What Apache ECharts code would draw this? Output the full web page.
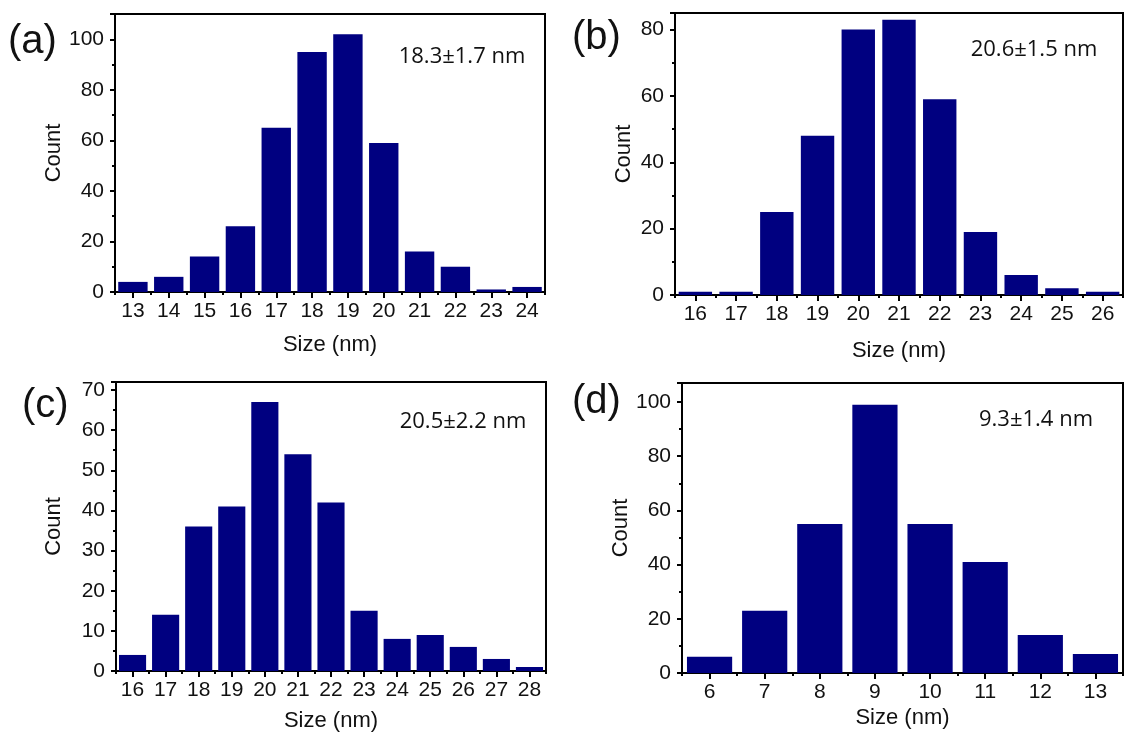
<!DOCTYPE html>
<html>
<head>
<meta charset="utf-8">
<script src="https://cdn.jsdelivr.net/npm/echarts@6/dist/echarts.min.js"></script>
<style>
html,body{margin:0;padding:0;background:#fff;}
#chart{width:1125px;height:734px;}
</style>
</head>
<body>
<div id="chart"></div>
<script>
// ---- data ----
const catsA = ['13','14','15','16','17','18','19','20','21','22','23','24'];
const valsA = [4, 6, 14, 26, 65, 95, 102, 59, 16, 10, 1, 2];
const catsB = ['16','17','18','19','20','21','22','23','24','25','26'];
const valsB = [1, 1, 25, 48, 80, 83, 59, 19, 6, 2, 1];
const catsC = ['16','17','18','19','20','21','22','23','24','25','26','27','28'];
const valsC = [4, 14, 36, 41, 67, 54, 42, 15, 8, 9, 6, 3, 1];
const catsD = ['6','7','8','9','10','11','12','13'];
const valsD = [6, 23, 55, 99, 55, 41, 14, 7];
const panelLabels = ['(a)', '(b)', '(c)', '(d)'];
const sizeNotes = ['18.3\u00b11.7 nm', '20.6\u00b11.5 nm', '20.5\u00b12.2 nm', '9.3\u00b11.4 nm'];
const yTitle = 'Count';
const xTitle = 'Size (nm)';

const panels = [
  {cats: catsA, vals: valsA, ymax: 110, interval: 20, grid: {left: 115, top: 14, width: 430, height: 278}, yGap: 50, xGap: 42},
  {cats: catsB, vals: valsB, ymax: 85, interval: 20, grid: {left: 675, top: 13, width: 448, height: 282}, yGap: 40, xGap: 45},
  {cats: catsC, vals: valsC, ymax: 72, interval: 10, grid: {left: 116, top: 382, width: 430, height: 289}, yGap: 51, xGap: 39},
  {cats: catsD, vals: valsD, ymax: 107, interval: 20, grid: {left: 682, top: 383, width: 441, height: 290}, yGap: 44, xGap: 34}
];

const FONT = 'Liberation Sans, Arial, sans-serif';
const grids = [], xAxes = [], yAxes = [], series = [];
panels.forEach((p, i) => {
  grids.push(Object.assign({show: true, borderColor: '#000', borderWidth: 2, backgroundColor: 'transparent'}, p.grid));
  xAxes.push({
    type: 'category', gridIndex: i, data: p.cats, position: 'bottom',
    name: xTitle, nameLocation: 'middle', nameGap: p.xGap,
    nameTextStyle: {fontFamily: FONT, fontSize: 22, color: '#111'},
    axisLine: {show: true, lineStyle: {color: '#000', width: 2}},
    axisTick: {show: true, alignWithLabel: true, length: 6, lineStyle: {color: '#000', width: 2}},
    axisLabel: {fontFamily: FONT, fontSize: 21, color: '#111', margin: 9, interval: 0},
    splitLine: {show: false}
  });
  xAxes.push({
    type: 'category', gridIndex: i, data: p.cats, position: 'bottom',
    axisLine: {show: false},
    axisTick: {show: true, length: 3, lineStyle: {color: '#000', width: 2}},
    axisLabel: {show: false},
    splitLine: {show: false}
  });
  yAxes.push({
    type: 'value', gridIndex: i, min: 0, max: p.ymax, interval: p.interval,
    name: yTitle, nameLocation: 'middle', nameGap: p.yGap, nameRotate: 90,
    nameTextStyle: {fontFamily: FONT, fontSize: 22, color: '#111'},
    axisLine: {show: true, lineStyle: {color: '#000', width: 2}},
    axisTick: {show: true, length: 5, lineStyle: {color: '#000', width: 2}},
    minorTick: {show: true, splitNumber: 2, length: 3, lineStyle: {color: '#000', width: 2}},
    axisLabel: {fontFamily: FONT, fontSize: 21, color: '#111', margin: 11, showMaxLabel: false},
    splitLine: {show: false}, minorSplitLine: {show: false}
  });
  series.push({
    type: 'bar', xAxisIndex: i * 2, yAxisIndex: i, data: p.vals,
    barCategoryGap: '18%',
    itemStyle: {color: '#000080'},
    silent: true
  });
});

const labelPos = [[8, 44], [572, 40], [22, 408], [572, 404]];
const notePos = [[462, 57], [1034, 50], [463, 422], [1036, 420]];
const graphics = [];
panelLabels.forEach((t, i) => {
  graphics.push({type: 'text', left: labelPos[i][0], top: labelPos[i][1] - 22, silent: true,
    style: {text: t, font: '40px ' + FONT, fill: '#111'}});
});
sizeNotes.forEach((t, i) => {
  graphics.push({type: 'text', x: notePos[i][0], y: notePos[i][1], silent: true,
    style: {text: t, font: '22px "Open Sans", sans-serif', fill: '#111', textAlign: 'center', textVerticalAlign: 'middle'}});
});

const chart = echarts.init(document.getElementById('chart'), null, {renderer: 'canvas'});
chart.setOption({
  animation: false,
  backgroundColor: '#fff',
  grid: grids, xAxis: xAxes, yAxis: yAxes, series: series,
  graphic: graphics
});
</script>
</body>
</html>
